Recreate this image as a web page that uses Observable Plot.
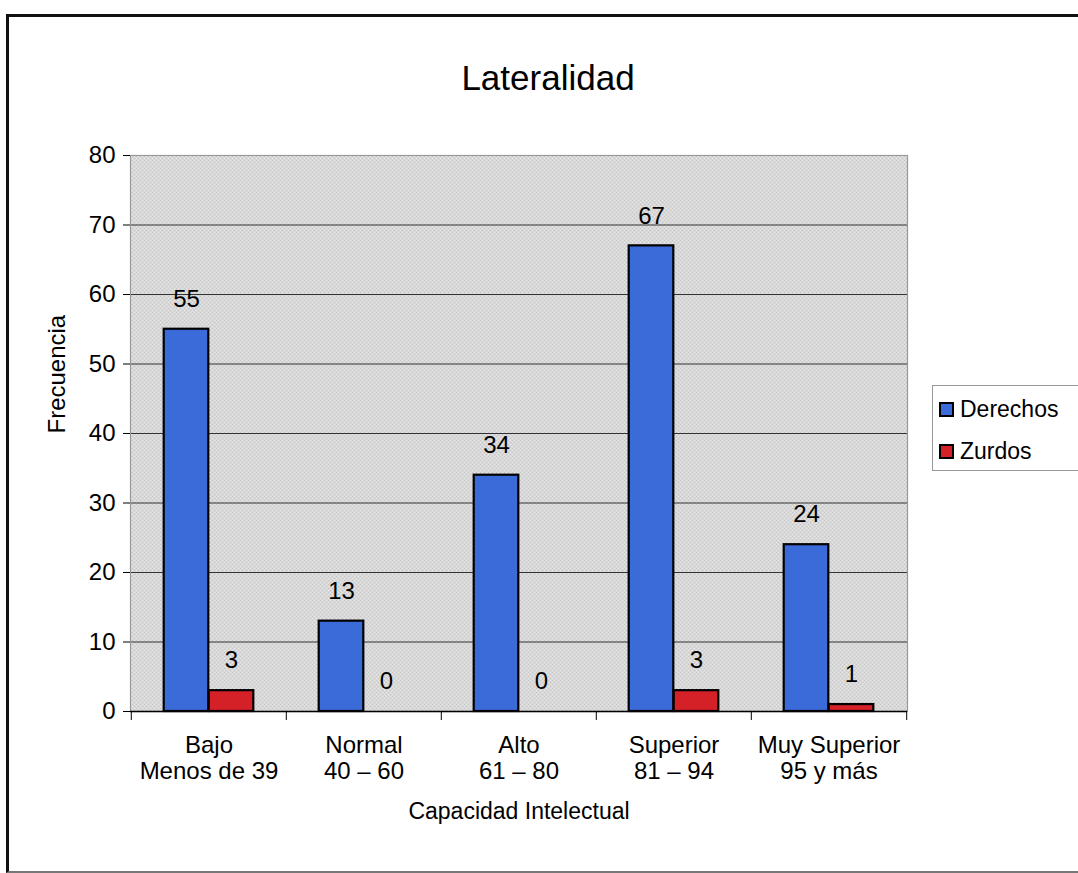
<!DOCTYPE html>
<html>
<head>
<meta charset="utf-8">
<script src="https://cdn.jsdelivr.net/npm/d3@7"></script>
<script src="https://cdn.jsdelivr.net/npm/@observablehq/plot@0.6"></script>
<style>
  html, body { margin: 0; padding: 0; background: #fff; overflow: hidden; }
  #wrap { position: relative; width: 1078px; height: 873px; overflow: hidden; font-family: "Liberation Sans", Arial, sans-serif; }
  #border { position: absolute; left: 6px; top: 14px; width: 1100px; height: 859px; border: 3px solid #111; border-bottom: 2px solid #777; box-sizing: border-box; }
  #chart { position: absolute; left: 0; top: 0; }
  #legend { position: absolute; left: 932px; top: 385px; width: 170px; height: 86px; border: 1px solid #999; background: #fff; box-sizing: border-box; }
  .item { position: absolute; left: 6px; display: flex; align-items: center; font-size: 23px; color: #000; }
  .sw { width: 15px; height: 15px; border: 2px solid #000; box-sizing: border-box; margin-right: 6px; }
</style>
</head>
<body>
<div id="wrap">
  <div id="border"></div>
  <div id="chart"></div>
  <div id="legend"></div>
</div>
<script>
const categories = ["Bajo", "Normal", "Alto", "Superior", "Muy Superior"];
const categoryRanges = ["Menos de 39", "40 – 60", "61 – 80", "81 – 94", "95 y más"];
const series = ["Derechos", "Zurdos"];
const derechos = [55, 13, 34, 67, 24];
const zurdos = [3, 0, 0, 3, 1];
const yTicks = [0, 10, 20, 30, 40, 50, 60, 70, 80];
const gridTicks = [10, 20, 30, 40, 50, 60, 70];
const colors = {Derechos: "#3b6bd9", Zurdos: "#d42127"};

const rows = [];
categories.forEach((c, i) => {
  rows.push({cat: c, series: "Derechos", value: derechos[i]});
  rows.push({cat: c, series: "Zurdos", value: zurdos[i]});
});
const labelOf = Object.fromEntries(categories.map((c, i) => [c, c + "\n" + categoryRanges[i]]));

const W = 1078, H = 873, ML = 130, MR = 171, MT = 155, MB = 162;
const bw = (W - ML - MR) / categories.length;
const barW = 45;
const font = "Liberation Sans, Arial, sans-serif";

const plot = Plot.plot({
  width: W, height: H,
  marginLeft: ML, marginRight: MR, marginTop: MT, marginBottom: MB,
  style: {fontFamily: font, background: "transparent", overflow: "visible"},
  x: {type: "band", domain: categories, padding: 0},
  y: {domain: [0, 80]},
  marks: [
    Plot.frame({fill: "url(#hatch)"}),
    Plot.gridY(gridTicks, {stroke: "#222", strokeOpacity: 0.9, strokeWidth: 1}),
    Plot.frame({stroke: "#999", strokeWidth: 1.2}),
    Plot.barY(rows.filter(d => d.series === "Derechos"), {
      x: "cat", y: "value", fill: colors.Derechos, stroke: "#000", strokeWidth: 2.2,
      insetLeft: bw / 2 - barW, insetRight: bw / 2
    }),
    Plot.barY(rows.filter(d => d.series === "Zurdos" && d.value > 0), {
      x: "cat", y: "value", fill: colors.Zurdos, stroke: "#000", strokeWidth: 2.2,
      insetLeft: bw / 2, insetRight: bw / 2 - barW
    }),
    Plot.ruleY([0], {stroke: "#000", strokeWidth: 1.6}),
    Plot.text(rows.filter(d => d.series === "Derechos"), {
      x: "cat", y: "value", text: d => String(d.value), dx: -barW / 2, dy: -30,
      fontSize: 24, fill: "#000"
    }),
    Plot.text(rows.filter(d => d.series === "Zurdos"), {
      x: "cat", y: "value", text: d => String(d.value), dx: barW / 2, dy: -30,
      fontSize: 24, fill: "#000"
    }),
    Plot.axisY(yTicks, {tickSize: 7, tickPadding: 8, fontSize: 24, stroke: "#000", fill: "#000", label: null}),
    Plot.axisX(categories, {tickSize: 9, dx: -bw / 2, tickFormat: () => "", stroke: "#000", label: null}),
    Plot.axisX([categories[categories.length - 1]], {tickSize: 9, dx: bw / 2, tickFormat: () => "", stroke: "#000", label: null}),
    Plot.axisX(categories, {tickSize: 0, tickPadding: 22, fontSize: 24, lineHeight: 1.12, tickFormat: d => labelOf[d], fill: "#000", label: null}),
    Plot.text(["Capacidad Intelectual"], {frameAnchor: "bottom", dy: 107, fontSize: 23, fill: "#000"}),
    Plot.text(["Frecuencia"], {frameAnchor: "left", rotate: -90, dx: -73, fontSize: 24, fill: "#000"}),
    Plot.text(["Lateralidad"], {frameAnchor: "top", dy: -90, dx: 29, fontSize: 35, fill: "#000"})
  ]
});

const svg = plot.tagName.toLowerCase() === "svg" ? plot : plot.querySelector("svg");
svg.insertAdjacentHTML("afterbegin",
  '<defs><pattern id="hatch" width="4" height="4" patternUnits="userSpaceOnUse">' +
  '<rect width="4" height="4" fill="#e9e9e9"/>' +
  '<path d="M0,0L4,4M4,0L0,4" stroke="#b8b8b8" stroke-width="0.7"/></pattern></defs>');
document.getElementById("chart").appendChild(plot);

const legend = document.getElementById("legend");
series.forEach((s, i) => {
  const item = document.createElement("div");
  item.className = "item";
  item.style.top = (10 + i * 42) + "px";
  item.innerHTML = '<div class="sw" style="background:' + colors[s] + '"></div><span>' + s + '</span>';
  legend.appendChild(item);
});
</script>
</body>
</html>
